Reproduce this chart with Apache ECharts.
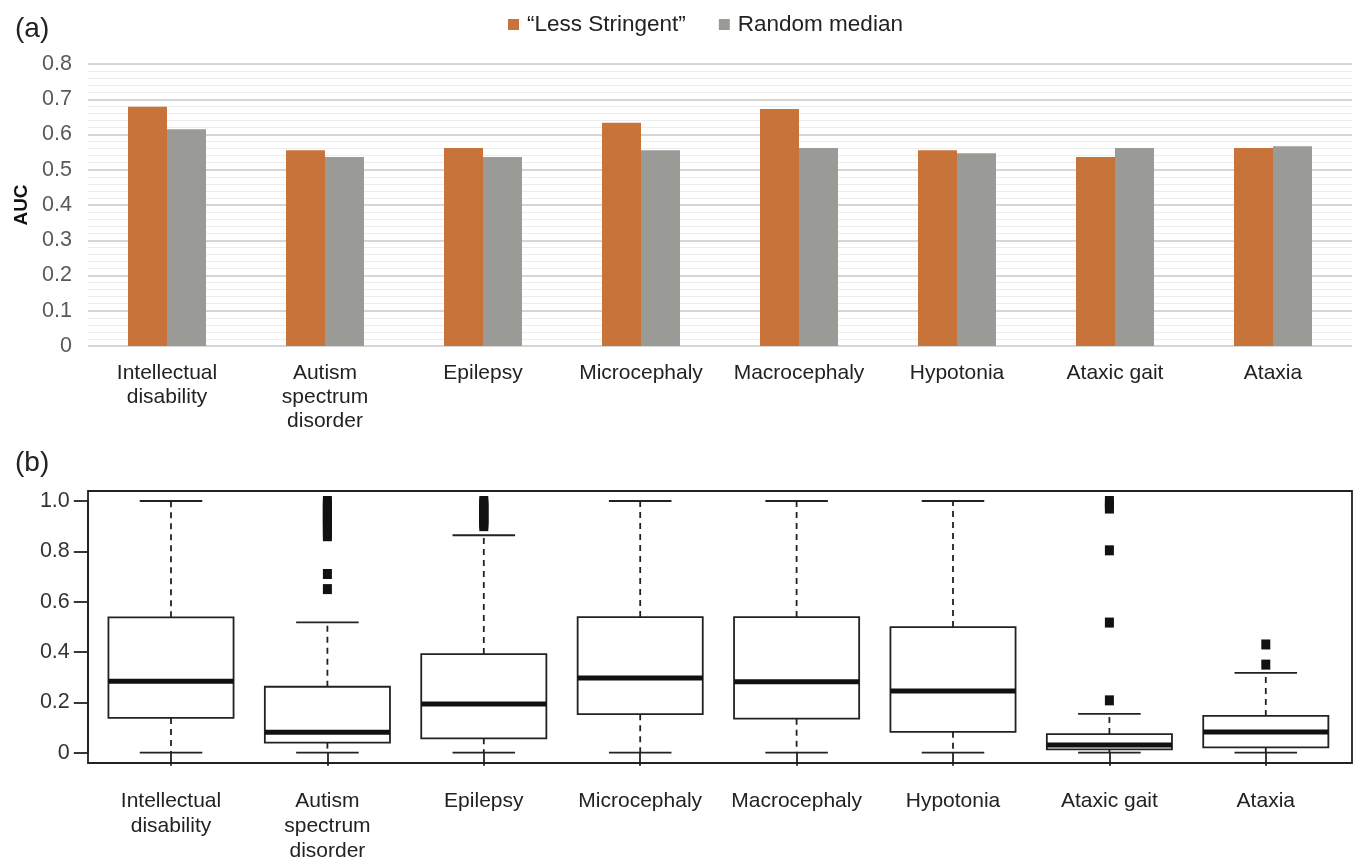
<!DOCTYPE html>
<html>
<head>
<meta charset="utf-8">
<script src="https://cdn.jsdelivr.net/npm/echarts@6/dist/echarts.min.js"></script>
<style>
    html, body { margin: 0; padding: 0; background: #fff; }
    #chart { width: 1357px; height: 861px; }
</style>
</head>
<body>
<div id="chart"></div>
<script>
var FONT = "'Liberation Sans', Arial, Helvetica, sans-serif";

var categories = ['Intellectual\ndisability', 'Autism\nspectrum\ndisorder', 'Epilepsy', 'Microcephaly',
    'Macrocephaly', 'Hypotonia', 'Ataxic gait', 'Ataxia'];

// (a) AUC
var lessStringent = [0.679, 0.555, 0.562, 0.633, 0.672, 0.555, 0.536, 0.562];
var randomMedian = [0.615, 0.536, 0.536, 0.555, 0.562, 0.547, 0.562, 0.567];

// (b) boxplot stats
var boxLow = [0, 0, 0, 0, 0, 0, 0, 0];
var boxQ1 = [0.138, 0.040, 0.057, 0.153, 0.135, 0.083, 0.013, 0.021];
var boxMedian = [0.284, 0.081, 0.193, 0.297, 0.282, 0.245, 0.031, 0.082];
var boxQ3 = [0.538, 0.262, 0.392, 0.539, 0.539, 0.499, 0.074, 0.146];
var boxHigh = [1.0, 0.518, 0.864, 1.0, 1.0, 1.0, 0.154, 0.317];
var outliers = [
    [],
    [1.0, 0.99, 0.98, 0.97, 0.96, 0.95, 0.94, 0.93, 0.92, 0.91, 0.90, 0.89, 0.87, 0.86, 0.71, 0.65],
    [1.0, 0.99, 0.98, 0.97, 0.96, 0.95, 0.94, 0.93, 0.92, 0.91, 0.90],
    [],
    [],
    [],
    [1.0, 0.985, 0.97, 0.804, 0.517, 0.208],
    [0.43, 0.35]
];

var yTicksA = { min: 0, max: 0.8, interval: 0.1 };
var yTicksB = { min: 0, max: 1, interval: 0.2 };

function fmtTick(v) {
    return v === 0 ? '0' : v.toFixed(1);
}

var boxData = categories.map(function(c, i) {
    return [i, boxLow[i], boxQ1[i], boxMedian[i], boxQ3[i], boxHigh[i]];
});
var outlierData = [];
outliers.forEach(function(list, i) {
    list.forEach(function(v) { outlierData.push([i, v]); });
});

// R-style box: dashed whiskers, half-width caps, thick median
function renderBox(params, api) {
    var idx = api.value(0);
    var band = api.size([1, 0])[0];
    var half = band * 0.4;
    var cap = band * 0.2;
    var pLow = api.coord([idx, api.value(1)]);
    var pQ1 = api.coord([idx, api.value(2)]);
    var pMed = api.coord([idx, api.value(3)]);
    var pQ3 = api.coord([idx, api.value(4)]);
    var pHigh = api.coord([idx, api.value(5)]);
    var cx = pMed[0];
    var solid = { stroke: '#222', lineWidth: 1.8, fill: null };
    var dashed = { stroke: '#222', lineWidth: 1.8, lineDash: [6, 5], fill: null };
    return {
        type: 'group',
        children: [
            { type: 'line', shape: { x1: cx, y1: pQ3[1], x2: cx, y2: pHigh[1] }, style: dashed },
            { type: 'line', shape: { x1: cx, y1: pQ1[1], x2: cx, y2: pLow[1] }, style: dashed },
            { type: 'line', shape: { x1: cx - cap, y1: pHigh[1], x2: cx + cap, y2: pHigh[1] }, style: solid },
            { type: 'line', shape: { x1: cx - cap, y1: pLow[1], x2: cx + cap, y2: pLow[1] }, style: solid },
            { type: 'rect', shape: { x: cx - half, y: pQ3[1], width: half * 2, height: pQ1[1] - pQ3[1] },
              style: { stroke: '#222', lineWidth: 1.8, fill: '#fff' } },
            { type: 'line', shape: { x1: cx - half, y1: pMed[1], x2: cx + half, y2: pMed[1] },
              style: { stroke: '#111', lineWidth: 5 } }
        ]
    };
}

var chart = echarts.init(document.getElementById('chart'));

var option = {
    backgroundColor: '#fff',
    animation: false,
    textStyle: { fontFamily: FONT },
    title: [
        { text: '(a)', left: 10, top: 10, textStyle: { fontSize: 28, fontWeight: 'normal', color: '#222', fontFamily: FONT } },
        { text: '(b)', left: 10, top: 444, textStyle: { fontSize: 28, fontWeight: 'normal', color: '#222', fontFamily: FONT } }
    ],
    legend: {
        left: 503,
        top: 8,
        icon: 'rect',
        itemWidth: 11,
        itemHeight: 11,
        itemGap: 33,
        textStyle: { fontSize: 22.5, color: '#222', fontFamily: FONT, padding: [0, 0, 0, 3] },
        data: ['\u201cLess Stringent\u201d', 'Random median']
    },
    grid: [
        { left: 88, right: 5, top: 64, height: 282, outerBoundsMode: 'none' },
        { left: 92.8, right: 13, top: 501, height: 251.7, outerBoundsMode: 'none' },
        { left: 88, right: 5, top: 491, height: 272, outerBoundsMode: 'none', show: true,
          borderColor: '#222', borderWidth: 1.8, backgroundColor: 'transparent' }
    ],
    xAxis: [
        {
            type: 'category',
            gridIndex: 0,
            data: categories,
            axisLine: { show: false },
            axisTick: { show: false },
            axisLabel: { fontSize: 21, lineHeight: 24, color: '#222', margin: 15, interval: 0, fontFamily: FONT }
        },
        {
            type: 'category',
            gridIndex: 1,
            data: categories,
            offset: 10.3,
            axisLine: { show: false },
            axisTick: { show: true, alignWithLabel: true, length: 13, lineStyle: { color: '#222', width: 1.8 } },
            axisLabel: { fontSize: 21, lineHeight: 25, color: '#222', margin: 26, interval: 0, fontFamily: FONT }
        }
    ],
    yAxis: [
        {
            type: 'value',
            gridIndex: 0,
            min: yTicksA.min,
            max: yTicksA.max,
            interval: yTicksA.interval,
            name: 'AUC',
            nameLocation: 'middle',
            nameRotate: 90,
            nameGap: 54,
            nameTextStyle: { fontSize: 19, fontWeight: 'bold', color: '#111', fontFamily: FONT },
            axisLine: { show: false },
            axisTick: { show: false },
            axisLabel: { fontSize: 21.5, color: '#595959', margin: 16, formatter: fmtTick, fontFamily: FONT },
            splitLine: { lineStyle: { color: '#d6d6d6', width: 2 } },
            minorTick: { show: false, splitNumber: 5 },
            minorSplitLine: { show: true, lineStyle: { color: '#ececec', width: 1 } }
        },
        {
            type: 'value',
            gridIndex: 1,
            min: yTicksB.min,
            max: yTicksB.max,
            interval: yTicksB.interval,
            offset: 5,
            axisLine: { show: true, lineStyle: { color: '#222', width: 1.8 } },
            axisTick: { show: true, length: 14, lineStyle: { color: '#222', width: 1.8 } },
            axisLabel: { fontSize: 21.5, color: '#333', margin: 18, formatter: fmtTick, fontFamily: FONT },
            splitLine: { show: false }
        }
    ],
    series: [
        {
            name: '\u201cLess Stringent\u201d',
            type: 'bar',
            xAxisIndex: 0,
            yAxisIndex: 0,
            barWidth: 39,
            barGap: '0%',
            itemStyle: { color: '#c8733a' },
            data: lessStringent
        },
        {
            name: 'Random median',
            type: 'bar',
            xAxisIndex: 0,
            yAxisIndex: 0,
            barWidth: 39,
            barGap: '0%',
            itemStyle: { color: '#9a9a96' },
            data: randomMedian
        },
        {
            name: 'box',
            type: 'custom',
            xAxisIndex: 1,
            yAxisIndex: 1,
            renderItem: renderBox,
            encode: { x: 0, y: [1, 2, 3, 4, 5] },
            data: boxData,
            z: 3
        },
        {
            name: 'outliers',
            type: 'scatter',
            xAxisIndex: 1,
            yAxisIndex: 1,
            symbol: 'rect',
            symbolSize: [9, 10],
            itemStyle: { color: '#111', opacity: 1 },
            data: outlierData,
            z: 4
        }
    ]
};

chart.setOption(option);
</script>
</body>
</html>
